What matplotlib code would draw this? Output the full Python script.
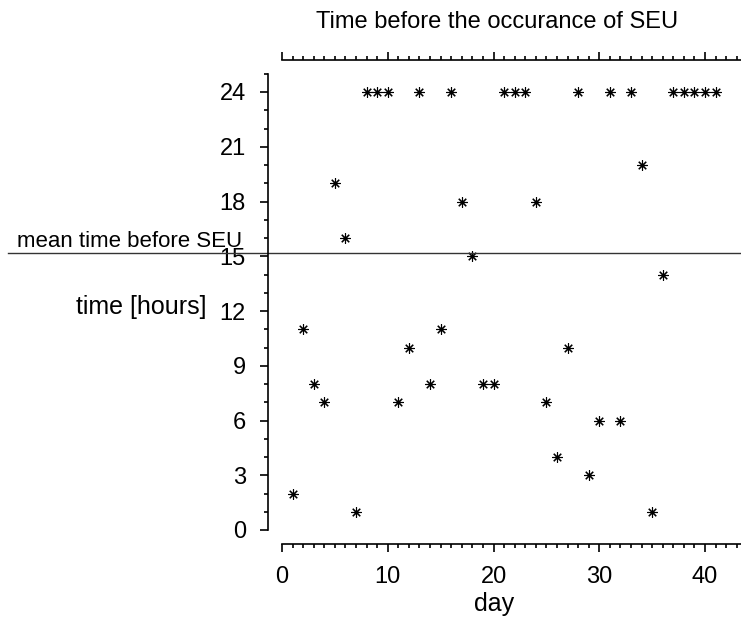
import numpy as np
import matplotlib
matplotlib.use("Agg")
import matplotlib.pyplot as plt
from matplotlib.ticker import MultipleLocator
import matplotlib.transforms as mtransforms

plt.rcParams['font.family'] = ['Liberation Sans', 'DejaVu Sans']

# day number and hours until the SEU showed up
days = list(range(1, 42))
hours = [2, 11, 8, 7, 19, 16, 1, 24, 24, 24,
         7, 10, 24, 8, 11, 24, 18, 15, 8, 8,
         24, 24, 24, 18, 7, 4, 10, 24, 3, 6,
         24, 6, 24, 20, 1, 14, 24, 24, 24, 24, 24]
mean_hours = np.mean(hours)

fig = plt.figure(figsize=(7.41, 6.2), dpi=100)
ax = fig.add_axes([282 / 741, 90 / 620, 459 / 741, 456.25 / 620])

ax.plot(days, hours, linestyle="none", marker=(8, 2, 0), markersize=7.5,
        color="black", markeredgewidth=0.8)

ax.set_xlim(0, 43.4)
ax.set_ylim(0, 25)

# spines pushed outward, no right spine
for side in ["left", "bottom", "top"]:
    ax.spines[side].set_position(("outward", 10))
    ax.spines[side].set_linewidth(1.2)
ax.spines["right"].set_visible(False)

ax.xaxis.set_major_locator(MultipleLocator(10))
ax.xaxis.set_minor_locator(MultipleLocator(1))
ax.yaxis.set_major_locator(MultipleLocator(3))
ax.yaxis.set_minor_locator(MultipleLocator(1))
ax.tick_params(axis="x", which="both", direction="out", top=True, labeltop=False,
               labelsize=17, pad=10, width=1.2)
ax.tick_params(axis="y", which="both", direction="out", labelsize=17, pad=10, width=1.2)
ax.tick_params(which="major", length=6)
ax.tick_params(which="minor", length=3)

# mean line reaching out past the axis
ax.axhline(mean_hours, xmin=-0.597, xmax=1, color="#333333", linewidth=1, clip_on=False)
trans = mtransforms.blended_transform_factory(ax.transAxes, ax.transData)
ax.text(-0.577, mean_hours + 0.05, "mean time before SEU", transform=trans,
        fontsize=16, va="bottom", ha="left")

fig.text(141 / 741, 1 - 307 / 620, "time [hours]", fontsize=18, ha="center", va="center")
fig.text(497 / 741, 1 - 22 / 620, "Time before the occurance of SEU", fontsize=17,
         ha="center", va="center")
fig.text(494 / 741, 1 - 604 / 620, "day", fontsize=18, ha="center", va="center")

fig.savefig("out.png", dpi=100)
